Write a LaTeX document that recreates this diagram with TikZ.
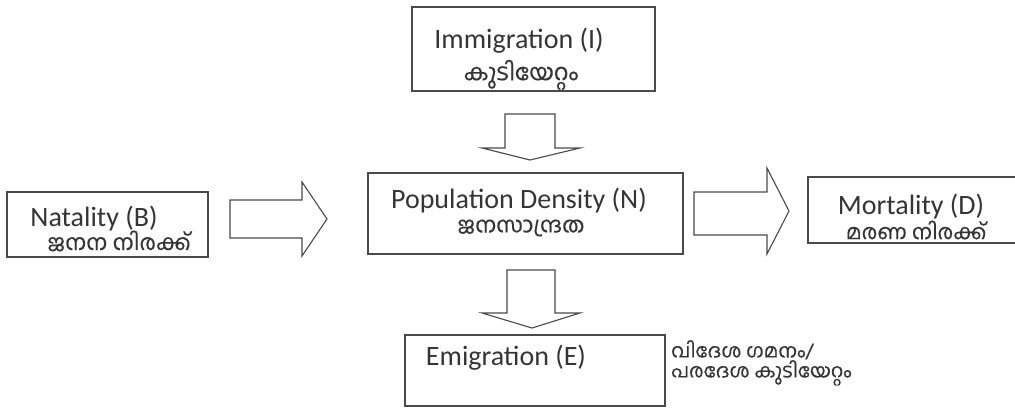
\documentclass[tikz,border=0pt]{standalone}
\usepackage{fontspec}
\setmainfont{Carlito}
\newfontfamily\mlfont[Script=Malayalam,FakeBold=0.3]{Hind Kochi}
\definecolor{ink}{HTML}{353535}
\definecolor{edge}{HTML}{4A4A4A}
\begin{document}
\begin{tikzpicture}[x=1pt,y=-1pt,
  box/.style={draw=edge,line width=1.1pt,inner sep=0pt,fill=white},
  eng/.style={text=ink,font=\fontsize{28}{30}\selectfont,inner sep=0pt,anchor=base},
  mal/.style={text=ink,inner sep=0pt},
  blockarrow/.style={draw=edge,line width=1.1pt,fill=white,line join=miter}]
\useasboundingbox[fill=white] (0,0) rectangle (1015,408);
% boxes
\node[box,minimum width=243pt,minimum height=84pt] (imm) at (533.5,49) {};
\node[box,minimum width=201pt,minimum height=65pt] (nat) at (107.5,224.5) {};
\node[box,minimum width=315pt,minimum height=81pt] (pop) at (525.5,213.5) {};
\node[box,minimum width=212pt,minimum height=66pt] (mor) at (914,210) {};
\node[box,minimum width=260pt,minimum height=71pt] (emi) at (535,370.5) {};
% texts
\node[eng] (immT) at (519,48) {Immigration (I)};
\node[mal,font=\mlfont\fontsize{23}{25}\selectfont] (immM) at (521,75) {കുടിയേറ്റം};
\node[eng] (natT) at (94,226) {Natality (B)};
\node[mal,font=\mlfont\fontsize{22}{24}\selectfont] (natM) at (119,241) {ജനന നിരക്ക്};
\node[eng] (popT) at (519,208) {Population Density (N)};
\node[mal,font=\mlfont\fontsize{22}{24}\selectfont] (popM) at (521,228) {ജനസാന്ദ്രത};
\node[eng] (morT) at (911,214) {Mortality (D)};
\node[mal,font=\mlfont\fontsize{21}{23}\selectfont] (morM) at (916,230) {മരണ നിരക്ക്};
\node[eng] (emiT) at (506,365) {Emigration (E)};
\node[mal,font=\mlfont\fontsize{19.5}{20}\selectfont,anchor=west,align=left] (emiM) at (671,363) {വിദേശ ഗമനം/\\പരദേശ കുടിയേറ്റം};
% block arrows
\draw[blockarrow] (505,114) -- (555,114) -- (555,148) -- (580,148) -- (530,160)
  -- (482,148) -- (505,148) -- cycle;
\draw[blockarrow] (230,200) -- (302,200) -- (302,182) -- (327,219) -- (302,256)
  -- (302,238) -- (230,238) -- cycle;
\draw[blockarrow] (694,192) -- (767,192) -- (767,168) -- (789,211) -- (767,254)
  -- (767,235) -- (694,235) -- cycle;
\draw[blockarrow] (507,270) -- (555,270) -- (555,313) -- (580,313) -- (532,328)
  -- (482,313) -- (507,313) -- cycle;
\end{tikzpicture}
\end{document}
